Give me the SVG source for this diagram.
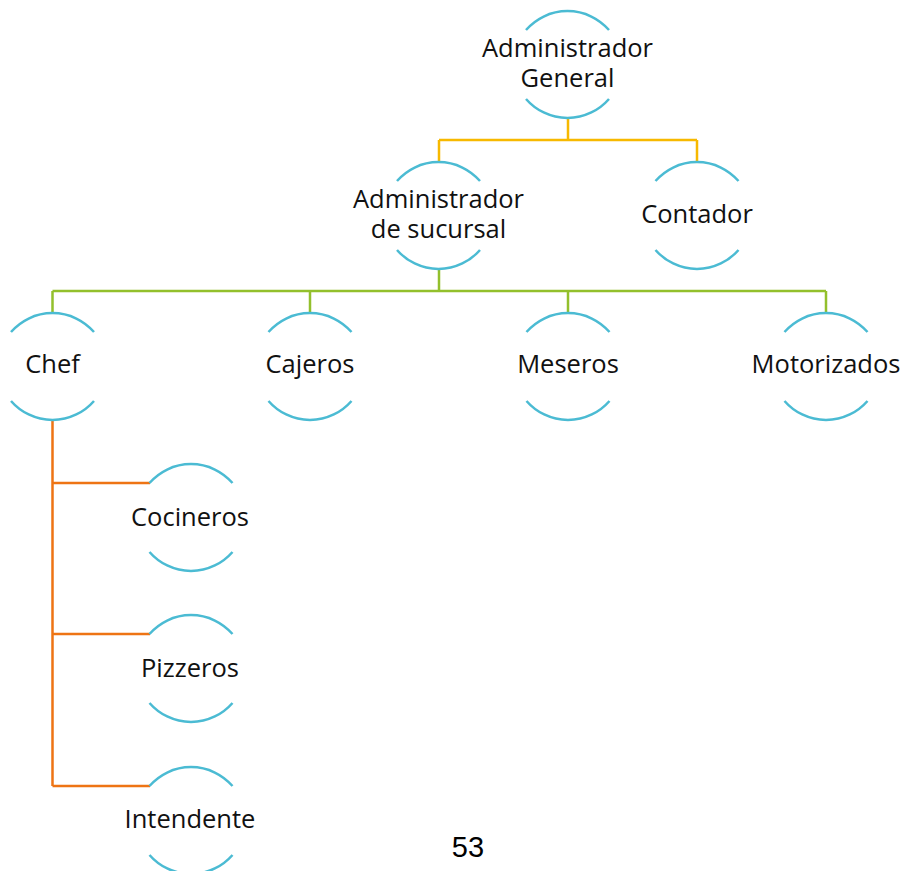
<svg xmlns="http://www.w3.org/2000/svg" xmlns:xlink="http://www.w3.org/1999/xlink" width="904" height="871" viewBox="0 0 904 871">
<style>
.arc{fill:none;stroke:#4bbbd3;stroke-width:2.5}
.t{font-family:"Open Sans","Noto Sans",sans-serif;font-size:25.5px;fill:#111;text-anchor:middle}
.pg{font-family:"Liberation Sans",Arial,sans-serif;font-size:29px;fill:#000;text-anchor:middle}
.c1{fill:none;stroke:#f7b900;stroke-width:2.5}
.c2{fill:none;stroke:#93c02c;stroke-width:2.5}
.c3{fill:none;stroke:#ee7414;stroke-width:2.5}
</style>
<defs>
<path id="arcs" class="arc" d="M-41.5,19 A55,55 0 0 1 41.5,19 M-41.5,88 A55,55 0 0 0 41.5,88"/>
</defs>
<rect width="904" height="871" fill="#fff"/>
<g id="connectors">
<path class="c1" d="M568,118 V140 M439,140 H697 M439,140 V162 M697,140 V162"/>
<path class="c2" d="M439,269 V291 M52.5,291 H826 M52.5,291 V313 M310,291 V313 M568,291 V313 M826,291 V313"/>
<path class="c3" d="M52.5,419 V786 M52.5,483 H150 M52.5,634 H150 M52.5,786 H150"/>
</g>
<g id="n-admin-general">
<use xlink:href="#arcs" href="#arcs" transform="translate(567.5,11)"/>
<text class="t" x="567.5" y="57">Administrador</text>
<text class="t" x="567.5" y="87">General</text>
</g>
<g id="n-admin-sucursal">
<use xlink:href="#arcs" href="#arcs" transform="translate(438.5,162)"/>
<text class="t" x="438.5" y="208">Administrador</text>
<text class="t" x="438.5" y="238">de sucursal</text>
</g>
<g id="n-contador">
<use xlink:href="#arcs" href="#arcs" transform="translate(697,162)"/>
<text class="t" x="697" y="223">Contador</text>
</g>
<g id="n-chef">
<use xlink:href="#arcs" href="#arcs" transform="translate(52.5,313)"/>
<text class="t" x="52.5" y="373">Chef</text>
</g>
<g id="n-cajeros">
<use xlink:href="#arcs" href="#arcs" transform="translate(310,313)"/>
<text class="t" x="310" y="373">Cajeros</text>
</g>
<g id="n-meseros">
<use xlink:href="#arcs" href="#arcs" transform="translate(568,313)"/>
<text class="t" x="568" y="373">Meseros</text>
</g>
<g id="n-motorizados">
<use xlink:href="#arcs" href="#arcs" transform="translate(826,313)"/>
<text class="t" x="826" y="373">Motorizados</text>
</g>
<g id="n-cocineros">
<use xlink:href="#arcs" href="#arcs" transform="translate(191,464)"/>
<text class="t" x="190" y="526">Cocineros</text>
</g>
<g id="n-pizzeros">
<use xlink:href="#arcs" href="#arcs" transform="translate(191,615)"/>
<text class="t" x="190" y="677">Pizzeros</text>
</g>
<g id="n-intendente">
<use xlink:href="#arcs" href="#arcs" transform="translate(191,767)"/>
<text class="t" x="190" y="828">Intendente</text>
</g>
<text class="pg" x="468" y="857">53</text>
</svg>
